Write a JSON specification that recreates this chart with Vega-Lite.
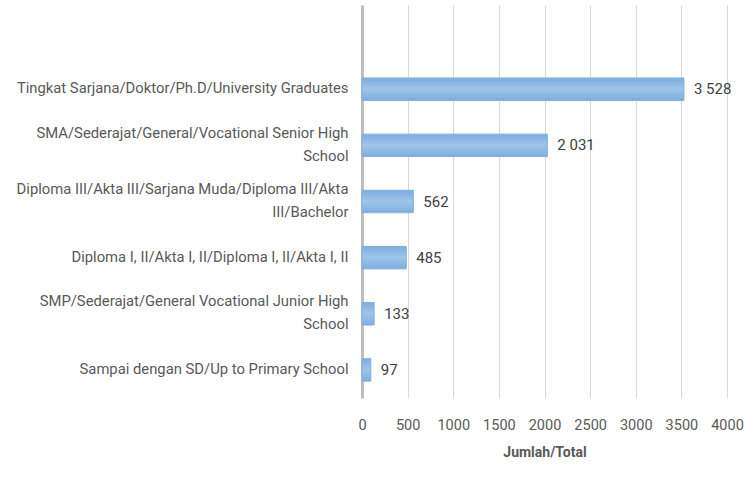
{
  "$schema": "https://vega.github.io/schema/vega-lite/v6.json",
  "width": 365,
  "height": 393,
  "autosize": {"type": "none"},
  "padding": {"left": 362, "top": 5, "right": 28, "bottom": 90},
  "background": "white",
  "config": {
    "view": {"stroke": null},
    "locale": {"number": {"decimal": ",", "thousands": " ", "grouping": [3], "currency": ["", ""]}},
    "font": "Roboto"
  },
  "data": {
    "values": [
      {"label": "Tingkat Sarjana/Doktor/Ph.D/University Graduates", "value": 3528},
      {"label": "SMA/Sederajat/General/Vocational Senior High|School", "value": 2031},
      {"label": "Diploma III/Akta III/Sarjana Muda/Diploma III/Akta|III/Bachelor", "value": 562},
      {"label": "Diploma I, II/Akta I, II/Diploma I, II/Akta I, II", "value": 485},
      {"label": "SMP/Sederajat/General Vocational Junior High|School", "value": 133},
      {"label": "Sampai dengan SD/Up to Primary School", "value": 97}
    ]
  },
  "encoding": {
    "y": {
      "field": "label",
      "type": "nominal",
      "scale": {
        "domain": [
          " ",
          "Tingkat Sarjana/Doktor/Ph.D/University Graduates",
          "SMA/Sederajat/General/Vocational Senior High|School",
          "Diploma III/Akta III/Sarjana Muda/Diploma III/Akta|III/Bachelor",
          "Diploma I, II/Akta I, II/Diploma I, II/Akta I, II",
          "SMP/Sederajat/General Vocational Junior High|School",
          "Sampai dengan SD/Up to Primary School"
        ],
        "paddingInner": 0.6,
        "paddingOuter": 0.3
      },
      "axis": {
        "title": null,
        "ticks": false,
        "domain": true,
        "domainColor": "#BFBFBF",
        "domainWidth": 3,
        "labelPadding": 14,
        "labelFontSize": 14.8,
        "labelColor": "#595959",
        "labelLineHeight": 23,
        "labelLimit": 400,
        "labelExpr": "split(datum.value, '|')",
        "labelOffset": {
          "condition": {"test": "indexof(datum.value, '|') >= 0", "value": -11.5},
          "value": 0
        }
      }
    },
    "x": {
      "field": "value",
      "type": "quantitative",
      "scale": {"domain": [0, 4000]},
      "axis": {
        "values": [0, 500, 1000, 1500, 2000, 2500, 3000, 3500, 4000],
        "format": "d",
        "domain": false,
        "ticks": false,
        "grid": true,
        "gridColor": "#D9D9D9",
        "gridWidth": 1,
        "labelFlush": false,
        "labelOverlap": false,
        "labelFontSize": 14.5,
        "labelColor": "#595959",
        "labelPadding": 20,
        "title": "Jumlah/Total",
        "titleFontSize": 14,
        "titleFontWeight": "bold",
        "titleColor": "#595959",
        "titlePadding": 14
      }
    }
  },
  "layer": [
    {
      "mark": {
        "type": "bar",
        "stroke": "#7FAEDF",
        "strokeWidth": 1,
        "color": {
          "gradient": "linear",
          "x1": 0, "y1": 0, "x2": 0, "y2": 1,
          "stops": [
            {"offset": 0, "color": "#7DAEE0"},
            {"offset": 0.5, "color": "#9EC4E9"},
            {"offset": 1, "color": "#7DAEE0"}
          ]
        }
      }
    },
    {
      "mark": {"type": "text", "align": "left", "dx": 10, "fontSize": 15, "color": "#404040"},
      "encoding": {"text": {"field": "value", "type": "quantitative", "format": ",d"}}
    }
  ]
}
